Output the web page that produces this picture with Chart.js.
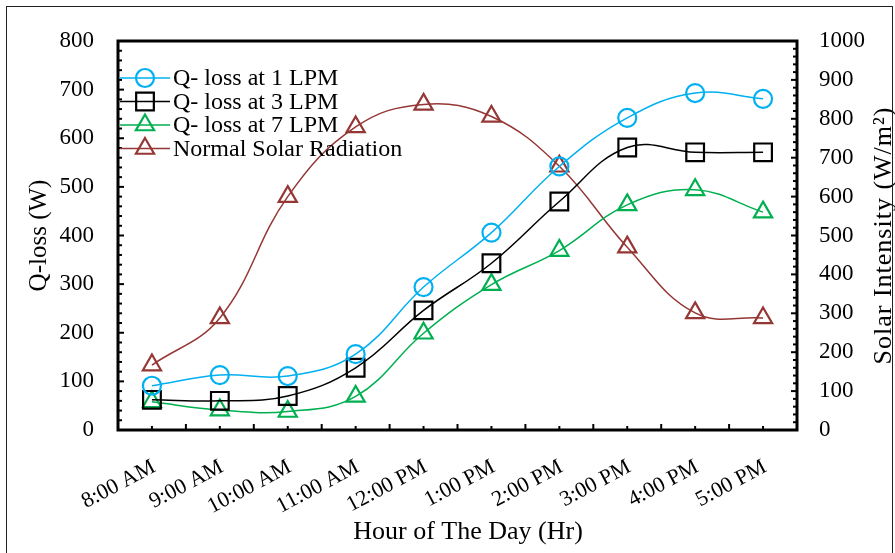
<!DOCTYPE html>
<html>
<head>
<meta charset="utf-8">
<script src="https://cdn.jsdelivr.net/npm/chart.js@4.4.1/dist/chart.umd.min.js"></script>
<style>
  html, body { margin: 0; padding: 0; background: #fff; }
  #wrap { position: relative; width: 895px; height: 553px; overflow: hidden; }
  #chart { position: absolute; left: 0; top: 0; }
  #frame { position: absolute; left: 6px; top: 6px; width: 887px; height: 570px; border: 1.5px solid #222; box-sizing: border-box; }
</style>
</head>
<body>
<div id="wrap">
  <canvas id="chart" width="895" height="553"></canvas>
  <div id="frame"></div>
</div>
<script>
// data
var hours = ['8:00 AM', '9:00 AM', '10:00 AM', '11:00 AM', '12:00 PM', '1:00 PM', '2:00 PM', '3:00 PM', '4:00 PM', '5:00 PM'];
var qLoss1 = [91, 113, 111, 156, 294, 406, 542, 642, 693, 681];
var qLoss3 = [62, 60, 70, 128, 246, 343, 470, 581, 571, 571];
var qLoss7 = [58, 41, 38, 69, 199, 299, 369, 463, 494, 448];
var solar = [167, 288, 600, 779, 837, 806, 678, 470, 301, 288];

var serif = '"Liberation Serif", "Times New Roman", serif';
var canv = document.getElementById('chart');
var context = canv.getContext('2d');

var makeSet = (label, data, color, style, radius, axis) => {
    return {
        label: label,
        data: data,
        yAxisID: axis,
        borderColor: color,
        borderWidth: 1.5,
        backgroundColor: color,
        pointStyle: style,
        pointRadius: radius,
        pointHoverRadius: radius,
        pointBorderColor: color,
        pointBorderWidth: 2.2,
        pointBackgroundColor: 'rgba(0,0,0,0)',
        tension: 0.4,
        fill: false
    };
};

// frame, inward ticks, legend and axis titles
var decor = {
    id: 'decor',
    afterDraw: (chart) => {
        var ctx = chart.ctx;
        var a = chart.chartArea;
        var xs = chart.scales.x, yl = chart.scales.y, yr = chart.scales.y1;
        ctx.save();
        ctx.strokeStyle = '#000';
        ctx.lineWidth = 2;
        // x ticks
        for (var i = 0; i <= hours.length; i++) {
            var xb = xs.getPixelForValue(i - 0.5);
            ctx.beginPath(); ctx.moveTo(xb, a.bottom); ctx.lineTo(xb, a.bottom - 6); ctx.stroke();
            if (i < hours.length) {
                var xc = xs.getPixelForValue(i);
                ctx.beginPath(); ctx.moveTo(xc, a.bottom); ctx.lineTo(xc, a.bottom - 4); ctx.stroke();
            }
        }
        for (var v = 0; v <= 800; v += 20) {
            var y = yl.getPixelForValue(v);
            ctx.beginPath(); ctx.moveTo(a.left, y); ctx.lineTo(a.left + (v % 100 ? 4 : 6), y); ctx.stroke();
        }
        for (var w = 0; w <= 1000; w += 20) {
            var y2 = yr.getPixelForValue(w);
            ctx.beginPath(); ctx.moveTo(a.right, y2); ctx.lineTo(a.right - (w % 100 ? 4 : 6), y2); ctx.stroke();
        }
        ctx.lineWidth = 3;
        ctx.strokeRect(a.left, a.top, a.right - a.left, a.bottom - a.top);

        // legend
        chart.data.datasets.forEach((ds, k) => {
            var ly = 78 + k * 23.5;
            ctx.strokeStyle = ds.borderColor;
            ctx.lineWidth = 1.5;
            ctx.beginPath(); ctx.moveTo(a.left + 2, ly); ctx.lineTo(170, ly); ctx.stroke();
            ctx.lineWidth = 2.2;
            ctx.fillStyle = 'rgba(0,0,0,0)';
            Chart.helpers.drawPoint(ctx, { pointStyle: ds.pointStyle, radius: ds.pointRadius, rotation: 0, borderWidth: 2.2 }, 145, ly);
            ctx.fillStyle = '#000';
            ctx.font = '24px ' + serif;
            ctx.textAlign = 'left';
            ctx.textBaseline = 'middle';
            ctx.fillText(ds.label, 173, ly + 1);
        });

        // x axis title
        ctx.fillStyle = '#000';
        ctx.font = '26px ' + serif;
        ctx.textAlign = 'center';
        ctx.textBaseline = 'middle';
        ctx.fillText('Hour of The Day (Hr)', 468, 532);

        // right axis title
        ctx.translate(884, (a.top + a.bottom) / 2);
        ctx.rotate(-Math.PI / 2);
        ctx.font = '26px ' + serif;
        ctx.letterSpacing = '1px';
        ctx.fillText('Solar Intensity (W/m\u00B2)', 0, 0);
        ctx.restore();
    }
};

var config = {
    type: 'line',
    data: {
        labels: hours,
        datasets: [
            makeSet('Q- loss at 1 LPM', qLoss1, '#00b0f0', 'circle', 9, 'y'),
            makeSet('Q- loss at 3 LPM', qLoss3, '#000000', 'rect', 12.5, 'y'),
            makeSet('Q- loss at 7 LPM', qLoss7, '#00b050', 'triangle', 10.5, 'y'),
            makeSet('Normal Solar Radiation', solar, '#953735', 'triangle', 10.5, 'y1')
        ]
    },
    options: {
        responsive: false,
        animation: false,
        layout: { padding: { left: 10, top: 41, right: 0, bottom: 0 } },
        plugins: { legend: { display: false }, tooltip: { enabled: false } },
        scales: {
            x: {
                offset: true,
                grid: { display: false, drawTicks: false },
                border: { display: false },
                ticks: { color: '#000', font: { family: serif, size: 22 }, minRotation: 28, maxRotation: 28, padding: 24, labelOffset: 2 },
                afterFit: (s) => { s.height = 123; }
            },
            y: {
                position: 'left',
                min: 0, max: 800,
                grid: { display: false, drawTicks: false },
                border: { display: false },
                ticks: { stepSize: 100, color: '#000', font: { family: serif, size: 23 }, padding: 24 },
                title: { display: true, text: 'Q-loss (W)', color: '#000', font: { family: serif, size: 25 }, padding: { top: 14, bottom: 0 } },
                afterFit: (s) => { s.width = 108; }
            },
            y1: {
                position: 'right',
                min: 0, max: 1000,
                grid: { display: false, drawTicks: false },
                border: { display: false },
                ticks: { stepSize: 100, color: '#000', font: { family: serif, size: 23 }, padding: 22, callback: (val) => String(val) },
                afterFit: (s) => { s.width = 98; }
            }
        }
    },
    plugins: [decor]
};

var chart1 = new Chart(context, config);
</script>
</body>
</html>
